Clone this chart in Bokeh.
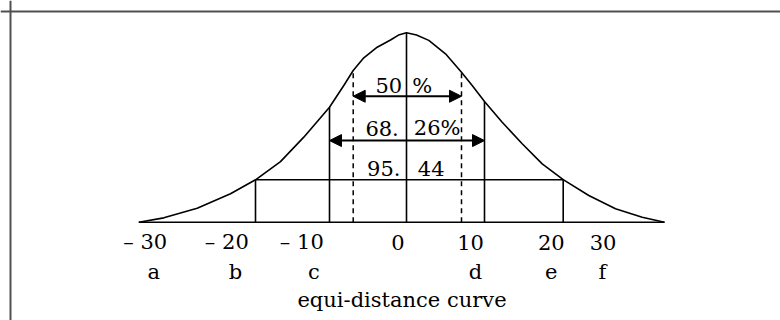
from bokeh.plotting import figure
from bokeh.models import Range1d, Arrow, NormalHead, Span
from bokeh.core.properties import value
from bokeh.embed import file_html
from bokeh.resources import INLINE

# ---- data (x: diagram units, centre = 0; y: relative height, peak = 1) ----
curve_x = [-26.77, -24.27, -20.93, -17.6, -15.1, -12.6, -10.27, -7.7, -6.27, -5.33,
           -4.27, -2.93, -1.6, -0.8, 0.0, 1.0, 2.23, 3.9, 5.5, 6.57, 7.8, 9.57,
           11.57, 13.57, 15.67, 18.23, 20.9, 23.57, 25.8]
curve_y = [0.0, 0.023, 0.074, 0.150, 0.224, 0.320, 0.449, 0.607, 0.722, 0.801,
           0.868, 0.924, 0.962, 0.988, 1.0, 0.988, 0.960, 0.889, 0.792, 0.722, 0.637, 0.528,
           0.414, 0.308, 0.225, 0.141, 0.071, 0.026, 0.0]

solid_x = [-15.1, -7.7, 0.0, 7.8, 15.67]
solid_top = [0.224, 0.607, 1.0, 0.637, 0.225]
dashed_x = [-5.33, 5.5]
dashed_top = [0.801, 0.792]
band_y = 0.224                        # 95.44 % level
band_left, band_right = -15.1, 15.67

arrow_y = [0.665, 0.431]              # 50 % and 68.26 % arrows
arrow_x0 = [-5.33, -7.7]
arrow_x1 = [5.5, 7.8]

left_labels = ["50", "68.", "95."]
right_labels = ["%", "26%", "44"]
label_y = [0.720, 0.495, 0.284]
left_label_x = [-0.43, -0.77, -0.6]
right_label_x = [0.57, 0.73, 1.13]

tick_labels = ["\u2013 30", "\u2013 20", "\u2013 10", "0", "10", "20", "30"]
tick_x = [-26.13, -17.97, -10.47, -0.85, 6.4, 14.48, 19.65]
letters = ["a", "b", "c", "d", "e", "f"]
letter_x = [-25.27, -17.1, -9.27, 6.9, 14.48, 19.6]
caption = "equi-distance curve"
caption_x = -0.45
row_y = [-0.107, -0.262, -0.412]

FONT = value("DejaVu Serif")
SIZE = "21px"
INK = "black"

p = figure(width=780, height=320, output_backend="svg", toolbar_location=None,
           x_range=Range1d(-40.6, 37.4), y_range=Range1d(-0.519, 1.1705),
           x_axis_type=None, y_axis_type=None, min_border=0,
           outline_line_color=None, background_fill_color="white",
           border_fill_color="white")

# border (top and left only)
p.add_layout(Span(location=1.1125, dimension="width", line_color="#505050", line_width=2))
p.add_layout(Span(location=-39.6, dimension="height", line_color="#505050", line_width=2))

# curve and base line
p.line(curve_x, curve_y, line_color=INK, line_width=1.6, line_join="round")
p.segment(x0=[curve_x[0]], y0=[0], x1=[curve_x[-1]], y1=[0], line_color=INK, line_width=1.6)

# vertical lines
p.segment(x0=solid_x, y0=[0] * len(solid_x), x1=solid_x, y1=solid_top,
          line_color=INK, line_width=1.6)
p.segment(x0=dashed_x, y0=[0] * len(dashed_x), x1=dashed_x, y1=dashed_top,
          line_color=INK, line_width=1.5, line_dash="5 4")
p.segment(x0=[band_left], y0=[band_y], x1=[band_right], y1=[band_y],
          line_color=INK, line_width=1.6)

# double arrows
for y, xa, xb in zip(arrow_y, arrow_x0, arrow_x1):
    p.add_layout(Arrow(x_start=xa, y_start=y, x_end=xb, y_end=y,
                       line_color=INK, line_width=2,
                       start=NormalHead(size=12, fill_color=INK, line_color=INK),
                       end=NormalHead(size=12, fill_color=INK, line_color=INK)))

# inner labels
p.text(x=left_label_x, y=label_y, text=left_labels, text_align="right",
       text_baseline="alphabetic", text_font=FONT, text_font_size=SIZE, text_color=INK)
p.text(x=right_label_x, y=label_y, text=right_labels, text_align="left",
       text_baseline="alphabetic", text_font=FONT, text_font_size=SIZE, text_color=INK)

# tick labels, letters, caption
p.text(x=tick_x, y=[row_y[0]] * len(tick_x), text=tick_labels, text_align="center",
       text_baseline="alphabetic", text_font=FONT, text_font_size=SIZE, text_color=INK)
p.text(x=letter_x, y=[row_y[1]] * len(letter_x), text=letters, text_align="center",
       text_baseline="alphabetic", text_font=FONT, text_font_size=SIZE, text_color=INK)
p.text(x=[caption_x], y=[row_y[2]], text=[caption], text_align="center",
       text_baseline="alphabetic", text_font=FONT, text_font_size=SIZE, text_color=INK)

open("out.html", "w").write(file_html(p, INLINE))
